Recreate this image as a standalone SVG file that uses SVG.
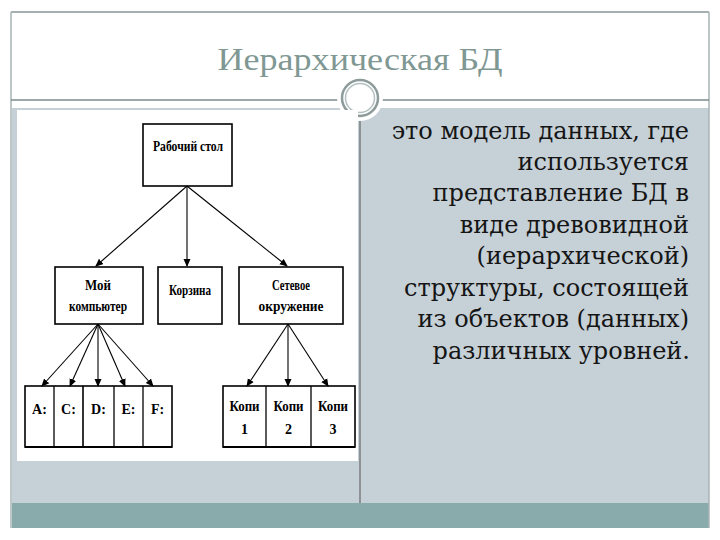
<svg xmlns="http://www.w3.org/2000/svg" width="720" height="540" viewBox="0 0 720 540">
<defs>
<marker id="ah" markerWidth="8" markerHeight="8" refX="7" refY="4" orient="auto" markerUnits="userSpaceOnUse">
<path d="M0,0.5 L8,4 L0,7.5 Z" fill="#000"/>
</marker>
<style>
.box{fill:#fff;stroke:#000;stroke-width:1.6}
.lbl{font-family:"Liberation Serif",serif;font-weight:bold;font-size:14px;fill:#000;text-anchor:middle}
.con line{stroke:#000;stroke-width:1.1;marker-end:url(#ah)}
.body{font-family:"DejaVu Serif","Liberation Serif",serif;font-size:24px;fill:#151515;text-anchor:end}
</style>
</defs>
<rect width="720" height="540" fill="#fff"/>
<g id="frame">
<rect x="12" y="108" width="697" height="396" fill="#c6d0d7"/>
<rect x="12" y="503" width="697" height="25" fill="#8aabab"/>
<line x1="11" y1="12" x2="709" y2="12" stroke="#8a9696" stroke-width="1.5"/>
<line x1="11" y1="12" x2="11" y2="528" stroke="#a9b4b4" stroke-width="1.5"/>
<line x1="709" y1="12" x2="709" y2="528" stroke="#a9b4b4" stroke-width="1.5"/>
<line x1="11" y1="100" x2="709" y2="100" stroke="#7d8a8a" stroke-width="1.5"/>
<line x1="360" y1="110" x2="360" y2="503" stroke="#555" stroke-width="1"/>
<circle cx="360" cy="98" r="23" fill="#fff"/>
<circle cx="360" cy="98" r="18" fill="#fff" stroke="#8d9b9b" stroke-width="2.5"/>
<circle cx="360" cy="98" r="14.5" fill="none" stroke="#b5c0c0" stroke-width="1.5"/>
</g>
<text id="title" x="360" y="70" style="font-family:'Liberation Serif',serif;font-size:32px;fill:#7f9893" text-anchor="middle" textLength="285" lengthAdjust="spacingAndGlyphs">Иерархическая БД</text>
<rect x="17" y="110" width="341" height="351" fill="#fff"/>
<g id="root"><rect class="box" x="143" y="124" width="89" height="62"/><text class="lbl" x="188" y="151" textLength="70" lengthAdjust="spacingAndGlyphs">Рабочий стол</text></g>
<g id="mycomp"><rect class="box" x="55" y="267" width="88" height="57"/><text class="lbl" x="98" y="290" textLength="26" lengthAdjust="spacingAndGlyphs">Мой</text><text class="lbl" x="98" y="311" textLength="58" lengthAdjust="spacingAndGlyphs">компьютер</text></g>
<g id="trash"><rect class="box" x="158" y="267" width="64" height="57"/><text class="lbl" x="190" y="295" textLength="42" lengthAdjust="spacingAndGlyphs">Корзина</text></g>
<g id="net"><rect class="box" x="239" y="267" width="104" height="57"/><text class="lbl" x="291" y="290" textLength="38" lengthAdjust="spacingAndGlyphs">Сетевое</text><text class="lbl" x="291" y="311" textLength="65" lengthAdjust="spacingAndGlyphs">окружение</text></g>
<g id="drives">
<rect class="box" x="25" y="386" width="147" height="61"/>
<line x1="54" y1="386" x2="54" y2="447" stroke="#000" stroke-width="1.3"/>
<line x1="83" y1="386" x2="83" y2="447" stroke="#000" stroke-width="1.6"/>
<line x1="114" y1="386" x2="114" y2="447" stroke="#000" stroke-width="1.3"/>
<line x1="143" y1="386" x2="143" y2="447" stroke="#000" stroke-width="1.3"/>
<line x1="25" y1="447" x2="172" y2="447" stroke="#000" stroke-width="2.2"/>
<text class="lbl" x="39.5" y="414">A:</text>
<text class="lbl" x="68.5" y="414">C:</text>
<text class="lbl" x="98.5" y="414">D:</text>
<text class="lbl" x="128.5" y="414">E:</text>
<text class="lbl" x="157.5" y="414">F:</text>
</g>
<g id="copies">
<rect class="box" x="223" y="386" width="132" height="61"/>
<line x1="266" y1="386" x2="266" y2="447" stroke="#000" stroke-width="1.3"/>
<line x1="311" y1="386" x2="311" y2="447" stroke="#000" stroke-width="1.3"/>
<line x1="223" y1="447" x2="355" y2="447" stroke="#000" stroke-width="2.2"/>
<text class="lbl" x="244.5" y="411" textLength="30" lengthAdjust="spacingAndGlyphs">Копи</text><text class="lbl" x="244.5" y="434">1</text>
<text class="lbl" x="288.5" y="411" textLength="30" lengthAdjust="spacingAndGlyphs">Копи</text><text class="lbl" x="288.5" y="434">2</text>
<text class="lbl" x="333" y="411" textLength="30" lengthAdjust="spacingAndGlyphs">Копи</text><text class="lbl" x="333" y="434">3</text>
</g>
<g id="connectors" class="con">
<line x1="187" y1="186" x2="96" y2="266"/>
<line x1="187" y1="186" x2="187" y2="266"/>
<line x1="187" y1="186" x2="287" y2="266"/>
<line x1="98" y1="324" x2="42" y2="386"/>
<line x1="98" y1="324" x2="70" y2="386"/>
<line x1="98" y1="324" x2="98" y2="386"/>
<line x1="98" y1="324" x2="125" y2="386"/>
<line x1="98" y1="324" x2="153" y2="386"/>
<line x1="288" y1="324" x2="247" y2="386"/>
<line x1="288" y1="324" x2="288" y2="386"/>
<line x1="288" y1="324" x2="328" y2="386"/>
</g>
<g id="desc" class="body">
<text x="689" y="139">это модель данных, где</text>
<text x="689" y="170">используется</text>
<text x="689" y="201">представление БД в</text>
<text x="689" y="233">виде древовидной</text>
<text x="689" y="264">(иерархической)</text>
<text x="689" y="296">структуры, состоящей</text>
<text x="689" y="327">из объектов (данных)</text>
<text x="690" y="359">различных уровней.</text>
</g>
</svg>
